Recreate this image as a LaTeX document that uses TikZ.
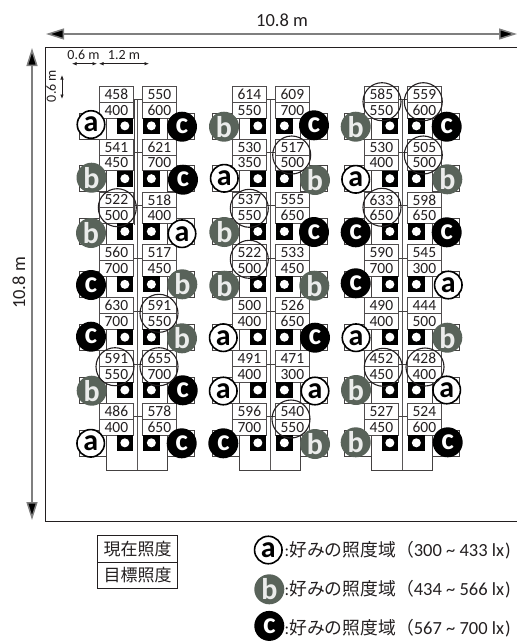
\documentclass[tikz,border=0pt]{standalone}
\usepackage{fontspec}
\setmainfont{Carlito}
\newfontfamily\cjk{Noto Sans CJK JP}
\usetikzlibrary{arrows.meta}
\definecolor{ink}{HTML}{231F20}
\definecolor{bgreen}{HTML}{59635A}
\definecolor{armgray}{HTML}{7F7F7F}
\newcommand\fs[1]{\fontsize{#1}{#1}\selectfont}
\tikzset{
  frameline/.style={draw=ink,line width=0.9pt},
  bigarrow/.style={draw=armgray,line width=1.5pt,{Triangle[length=18pt,width=11pt,fill=black]}-{Triangle[length=18pt,width=11pt,fill=black]}},
  tinyarrow/.style={draw=ink,line width=0.7pt,{Latex[length=4.5pt,width=3.5pt]}-{Latex[length=4.5pt,width=3.5pt]}},
  planline/.style={draw=ink!85,line width=0.7pt},
  axisline/.style={draw=ink!75,line width=1.1pt},
  valbox/.style={draw=ink!80,fill=white,line width=0.7pt,minimum width=34pt,minimum height=15.8pt,inner sep=0pt,anchor=north west,text=ink,font=\fs{15.5}},
  lampbox/.style={fill=black,minimum size=16.3pt,inner sep=0pt,anchor=north west},
  lampdot/.style={circle,fill=white,minimum size=9pt,inner sep=0pt},
  ringmark/.style={circle,draw=ink,line width=1.1pt,minimum size=38pt,inner sep=0pt},
  iconbase/.style={circle,minimum size=30pt,inner sep=0pt,font=\fs{30}\bfseries},
  icona/.style={iconbase,draw=black,fill=white,line width=1.6pt,text=black,minimum size=27.5pt},
  iconb/.style={iconbase,fill=bgreen,text=white!88!bgreen},
  iconc/.style={iconbase,fill=black,text=white},
  dimlabel/.style={text=ink,inner sep=0pt},
  legendbox/.style={draw=ink,fill=white,line width=0.8pt,minimum width=80pt,minimum height=26.3pt,inner sep=0pt,anchor=north west,text=ink,font=\cjk\fs{17}},
  legendtext/.style={text=ink,inner sep=0pt,anchor=base west},
}
\begin{document}
\begin{tikzpicture}[x=1pt,y=-1pt]
\useasboundingbox (0,0) rectangle (517,641);
% room
\draw[frameline] (517,47) -- (45,47) -- (45,521.5) -- (517,521.5);
\coordinate (tl) at (46,34); \coordinate (tr) at (517,34);
\coordinate (ll) at (32,48); \coordinate (lb) at (32,520);
\draw[bigarrow] (tl) -- (tr);
\draw[bigarrow] (ll) -- (lb);
\node[dimlabel,font=\fs{18.5},anchor=base] (w) at (282,26) {10.8 m};
\node[dimlabel,font=\fs{18.5},anchor=base,rotate=90] (h) at (25,283) {10.8 m};
\node[dimlabel,font=\fs{14},anchor=base] (d1) at (83.5,59) {0.6 m};
\node[dimlabel,font=\fs{14},anchor=base] (d2) at (124,59) {1.2 m};
\node[dimlabel,font=\fs{14},anchor=base,rotate=90] (d3) at (56,86) {0.6 m};
\coordinate (a1) at (72,63.7); \coordinate (a2) at (97,63.7);
\coordinate (a3) at (99,63.7); \coordinate (a4) at (149,63.7);
\coordinate (a5) at (62,75); \coordinate (a6) at (62,99);
\draw[tinyarrow] (a1) -- (a2);
\draw[tinyarrow] (a3) -- (a4);
\draw[tinyarrow] (a5) -- (a6);
% table bodies and desks
\foreach \dx in {0,133,265}{
  \begin{scope}[xshift=\dx pt]
    \draw[planline] (106,86) -- (106,470) -- (167,470) -- (167,86);
    \foreach \r in {0,...,6}{
      \pgfmathsetmacro\yy{86+52.83*\r}
      \draw[planline] (106,\yy+27) -- (79.5,\yy+27) -- (79.5,\yy+53) -- (106,\yy+53);
      \draw[planline] (167,\yy+27) -- (194.5,\yy+27) -- (194.5,\yy+53) -- (167,\yy+53);
    }
    \draw[axisline] (137.3,99) -- (137.3,470);
  \end{scope}
}
\draw[planline] (134.8,99) -- (134.8,225);
% value boxes
\foreach \bx/\r/\cur/\tgt in {
 99/0/458/400,99/1/541/450,99/2/522/500,99/3/560/700,99/4/630/700,99/5/591/550,99/6/486/400,
 142/0/550/600,142/1/621/700,142/2/518/400,142/3/517/450,142/4/591/550,142/5/655/700,142/6/578/650,
 232/0/614/550,232/1/530/350,232/2/537/550,232/3/522/500,232/4/500/400,232/5/491/400,232/6/596/700,
 275/0/609/700,275/1/517/500,275/2/555/650,275/3/533/450,275/4/526/650,275/5/471/300,275/6/540/550,
 364/0/585/550,364/1/530/400,364/2/633/650,364/3/590/700,364/4/490/400,364/5/452/450,364/6/527/450,
 407/0/559/600,407/1/505/500,407/2/598/650,407/3/545/300,407/4/444/500,407/5/428/400,407/6/524/600}{
  \pgfmathsetmacro\yy{86+52.83*\r}
  \node[valbox] (cur-\bx-\r) at (\bx,\yy) {\cur};
  \node[valbox] (tgt-\bx-\r) at (\bx,\yy+15.8) {\tgt};
}
% branch connectors
\foreach \lx/\rx in {99/142,232/275,364/407}{
  \foreach \r in {0,...,6}{
    \draw[planline] ([yshift=2.7pt]cur-\lx-\r.south east) -- ([yshift=2.7pt]cur-\rx-\r.south west);
  }
}
% lamps
\foreach \li/\lx in {1/116.5,2/143,3/249.5,4/276,5/381.5,6/408}{
  \foreach \r in {0,...,6}{
    \pgfmathsetmacro\yy{117.5+52.83*\r}
    \node[lampbox] (lamp-\li-\r) at (\lx,\yy) {};
    \node[lampdot] (dot-\li-\r) at (lamp-\li-\r.center) {};
  }
}
% preference icons
\foreach \n/\st/\t/\ix/\iy in {
 i1/icona/a/91/124.5,i2/iconb/b/91.5/177.7,i3/iconb/b/91/233,i4/iconc/c/91/285,i5/iconc/c/91/336.7,i6/iconb/b/91.7/390.7,i7/icona/a/90.7/443.3,
 i8/iconc/c/182/126.7,i9/iconc/c/183/179.7,i10/icona/a/182/233.7,i11/iconb/b/182.3/284.3,i12/iconb/b/182/338.3,i13/iconc/c/182.7/390.3,i14/iconc/c/181.7/443.3,
 i15/iconb/b/224/126.7,i16/icona/a/224.3/178.3,i17/iconb/b/224.3/232,i18/iconb/b/224.3/285.7,i19/icona/a/223.3/337.7,i20/icona/a/223.3/391,i21/iconc/c/223.3/443.3,
 i22/iconc/c/314/125.3,i23/iconb/b/315/180,i24/iconc/c/314/232,i25/iconb/b/314.3/285.7,i26/iconc/c/315/337.7,i27/icona/a/315/391,i28/iconb/b/315/444,
 i29/iconb/b/355.7/126.7,i30/icona/a/355.7/179.3,i31/iconc/c/355.7/232.3,i32/iconc/c/355.7/283.3,i33/icona/a/356/337.7,i34/iconb/b/356/390,i35/iconb/b/355.7/442.3,
 i36/iconc/c/446.7/126.7,i37/iconb/b/447.3/179.3,i38/iconc/c/446.7/232.3,i39/icona/a/448.3/285,i40/iconb/b/447.3/337.7,i41/icona/a/446.7/390,i42/iconc/c/447.7/442.3}{
  \node[\st] (\n) at (\ix,\iy) {\t};
}
% rings
\foreach \n/\ix/\iy in {
 r1/117.3/207.7,r2/159/313.3,r3/115/366.7,r4/159/366.7,
 r5/291.7/155,r6/249.3/208.3,r7/249.3/259.3,r8/291/419,
 r9/382/101.7,r10/423.3/101.7,r11/423.3/155,r12/382/207.3,r13/383.3/367.3,r14/425/367}{
  \node[ringmark] (\n) at (\ix,\iy) {};
}
% legend
\node[legendbox] (now) at (97.3,535.3) {現在照度};
\node[legendbox] (goal) at (97.3,561.6) {目標照度};
\node[icona] (la) at (268.3,550) {a};
\node[iconb] (lb2) at (269.3,589.3) {b};
\node[iconc] (lc) at (269.3,625.9) {c};
\node[legendtext] (ta) at (284.5,556) {\fs{17}:{\fs{17.8}\cjk 好みの照度域（}\fs{18.5}300 \textasciitilde{} 433 lx\kern1pt)};
\node[legendtext] (tb) at (284.5,595) {\fs{17}:{\fs{17.8}\cjk 好みの照度域（}\fs{18.5}434 \textasciitilde{} 566 lx\kern1pt)};
\node[legendtext] (tc) at (284.5,634) {\fs{17}:{\fs{17.8}\cjk 好みの照度域（}\fs{18.5}567 \textasciitilde{} 700 lx\kern1pt)};
\end{tikzpicture}
\end{document}
